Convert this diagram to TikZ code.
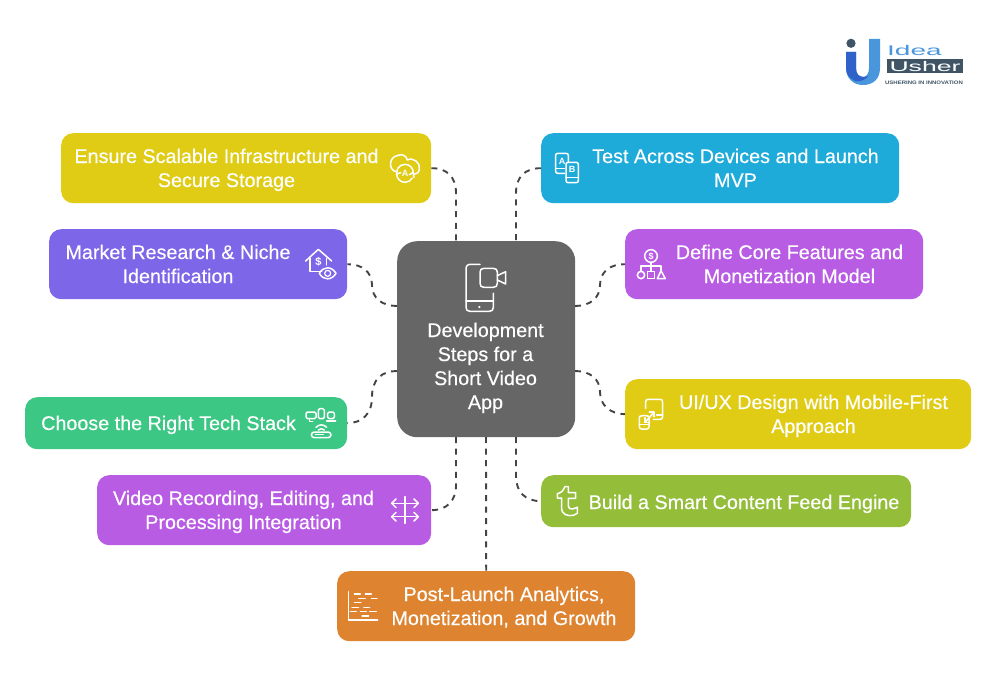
\documentclass[tikz,border=0pt]{standalone}
\usepackage{graphicx}
\usepackage{fontspec}
\setmainfont{Liberation Sans}
\newfontfamily\lblfont[RawFeature={embolden=0.35}]{Liberation Sans}
\definecolor{cyel}{HTML}{E0CC14}
\definecolor{cpur}{HTML}{7D66E8}
\definecolor{cblu}{HTML}{1EABDA}
\definecolor{cvio}{HTML}{B95CE4}
\definecolor{cgrn}{HTML}{3DC784}
\definecolor{clim}{HTML}{94BD3A}
\definecolor{corg}{HTML}{DE8431}
\definecolor{cgry}{HTML}{666666}
\definecolor{cdash}{HTML}{444444}
\definecolor{lgd}{HTML}{3F5566}
\definecolor{lgb}{HTML}{4A96DC}
\definecolor{lgn}{HTML}{2F62C8}
\tikzset{
  box/.style={draw=none,rounded corners=12pt,inner sep=0pt},
  lbl/.style={text=white,align=center,font=\lblfont\fontsize{19.75}{24}\selectfont,inner sep=0pt,yshift=-1pt},
  conn/.style={draw=cdash,line width=1.9pt,dash pattern=on 6pt off 5.6pt},
  ico/.style={draw=white,line width=1.5pt,line join=round,line cap=round},
  zz/.style 2 args={shift={(#1,#2)},x=0.33333pt,y=-0.33333pt},
  ilt/.style={text=white,inner sep=0pt,font=\bfseries\fontsize{9}{9}\selectfont}
}
\newcommand{\mkbox}[6]{\node[box,fill=#6,minimum width=#4pt-#2pt,minimum height=#5pt-#3pt,anchor=north west] (#1) at (#2,#3) {};}
\newcommand{\sq}{\rule[-6pt]{0pt}{24pt}}
\begin{document}
\begin{tikzpicture}[x=1pt,y=-1pt]
\useasboundingbox (0,0) rectangle (996,690);
% boxes
\mkbox{scal}{61}{133}{431}{203}{cyel}
\mkbox{mark}{49}{229}{347}{299}{cpur}
\mkbox{test}{541}{133}{899}{203}{cblu}
\mkbox{defi}{625}{229}{923}{299}{cvio}
\mkbox{tech}{25}{397}{347}{449}{cgrn}
\mkbox{uiux}{625}{379}{971}{449}{cyel}
\mkbox{vide}{97}{475}{431}{545}{cvio}
\mkbox{feed}{541}{475}{911}{527}{clim}
\mkbox{post}{337}{571}{635}{641}{corg}
\node[box,rounded corners=20pt,fill=cgry,minimum width=178pt,minimum height=196pt,anchor=north west] (core) at (397,241) {};
% anchors on the core
\coordinate (ct1) at (456,241);
\coordinate (ct2) at (516,241);
\coordinate (cl1) at (397,306);
\coordinate (cl2) at (397,371);
\coordinate (cr1) at (575,306);
\coordinate (cr2) at (575,371);
\coordinate (cb1) at (456,437);
\coordinate (cb2) at (486,437);
\coordinate (cb3) at (516,437);
% connectors
\draw[conn] (scal.east) .. controls (447,168) and (456,177) .. (456,193) -- (ct1);
\draw[conn] (test.west) .. controls (525,168) and (516,177) .. (516,193) -- (ct2);
\draw[conn] (cl1) .. controls (382,306) and (372,298) .. (372,285) .. controls (372,272) and (362,264) .. (mark.east);
\draw[conn] (cr1) .. controls (590,306) and (600,298) .. (600,285) .. controls (600,272) and (610,264) .. (defi.west);
\draw[conn] (cr2) .. controls (590,371) and (600,379) .. (600,392) .. controls (600,405) and (610,414) .. (uiux.west);
\draw[conn] (cl2) .. controls (382,371) and (372,379) .. (372,397) .. controls (372,414) and (362,423) .. (tech.east);
\draw[conn] (cb1) -- (456,485) .. controls (456,501) and (447,510) .. (vide.east);
\draw[conn] (cb3) -- (516,476) .. controls (516,492) and (525,501) .. (feed.west);
\draw[conn] (cb2) -- (post.north);
% labels
\node[lbl] (tscal) at (226.5,168) {\sq Ensure Scalable Infrastructure and\\\sq Secure Storage};
\node[lbl] (tmark) at (178,264) {\sq Market Research \& Niche\\\sq Identification};
\node[lbl] (ttest) at (735.5,168) {\sq Test Across Devices and Launch\\\sq MVP};
\node[lbl] (tdefi) at (789.5,264) {\sq Define Core Features and\\\sq Monetization Model};
\node[lbl] (ttech) at (168.5,423) {\sq Choose the Right Tech Stack};
\node[lbl] (tuiux) at (813.5,414) {\sq UI/UX Design with Mobile-First\\\sq Approach};
\node[lbl] (tvide) at (243.5,510) {\sq Video Recording, Editing, and\\\sq Processing Integration};
\node[lbl] (tfeed) at (744,502) {\sq Build a Smart Content Feed Engine};
\node[lbl] (tpost) at (504,606) {\sq Post-Launch Analytics,\\\sq Monetization, and Growth};
\node[lbl] (tcore) at (485.5,366) {\sq Development\\\sq Steps for a\\\sq Short Video\\\sq App};
% core icon
\begin{scope}[zz={380}{230}]
\draw[ico] (300,103) -- (272,103) .. controls (262,103) and (258,108) .. (258,118) -- (258,232) .. controls (258,240) and (262,244) .. (270,244) -- (328,244) .. controls (336,244) and (340,240) .. (340,232) -- (340,190);
\draw[ico] (258,213) -- (340,213);
\fill[white] (298,231) circle (3.5);
\draw[ico] (312,115) -- (340,115) .. controls (348,115) and (352,119) .. (352,127) -- (352,160) .. controls (352,168) and (348,172) .. (340,172) -- (312,172) .. controls (304,172) and (300,168) .. (300,160) -- (300,127) .. controls (300,119) and (304,115) .. (312,115) -- cycle;
\draw[ico] (352,137) -- (377,125) -- (377,162) -- (352,150);
\end{scope}
% cloud icon
\begin{scope}[zz={290}{130}]
\draw[ico] (318,125) .. controls (295,120) and (295,80) .. (325,76) .. controls (335,70) and (350,78) .. (352,90) .. controls (370,80) and (392,100) .. (388,115) .. controls (388,128) and (380,132) .. (372,133);
\draw[ico] (320,132) arc (180:30:25);
\draw[ico] (370,128) arc (0:-150:25);
\draw[ico] (322,118) -- (320,132) -- (332,128);
\draw[ico] (372,142) -- (370,128) -- (358,134);
\node[ilt] (ia) at (345,130) {A};
\end{scope}
% house icon
\begin{scope}[zz={290}{130}]
\draw[ico] (47,393) -- (85,358) -- (125,393);
\draw[ico] (60,385) -- (60,424) -- (95,424);
\draw[ico] (110,385) -- (110,405);
\node[ilt,font=\bfseries\fontsize{11}{11}\selectfont] (idollar) at (85,396) {\$};
\draw[ico] (88,430) .. controls (100,408) and (125,408) .. (138,430) .. controls (125,452) and (100,452) .. (88,430) -- cycle;
\draw[ico,line width=1.2pt] (113,430) circle (9);
\end{scope}
% A/B phones
\begin{scope}[zz={510}{130}]
\draw[ico,rounded corners=2pt] (137,70) rectangle (175,130);
\draw[ico] (137,116) -- (165,116);
\node[ilt] (ipa) at (156,93) {A};
\fill[cblu] (165,96) rectangle (207,160);
\draw[ico,rounded corners=2pt] (168,97) rectangle (205,158);
\draw[ico] (168,143) -- (205,143);
\node[ilt] (ipb) at (186,119) {B};
\end{scope}
% hierarchy icon
\begin{scope}[zz={510}{130}]
\draw[ico] (423,378) circle (19);
\node[ilt] (idol) at (423,378) {\$};
\draw[ico] (423,397) -- (423,424);
\draw[ico] (393,424) -- (393,408) -- (453,408) -- (453,420);
\draw[ico] (393,435) circle (11);
\draw[ico] (412,424) rectangle (434,446);
\draw[ico] (453,422) -- (466,446) -- (442,446) -- cycle;
\end{scope}
% devices icon
\begin{scope}[zz={290}{390}]
\draw[ico,rounded corners=1.5pt] (48,66) rectangle (78,86);
\draw[ico] (58,86) -- (58,94) -- (68,94);
\draw[ico,rounded corners=1.5pt] (85,56) rectangle (103,86);
\draw[ico,rounded corners=1.5pt] (113,66) rectangle (133,86);
\draw[ico] (110,93) -- (137,93);
\draw[ico] (78,112) .. controls (88,102) and (100,102) .. (110,112);
\draw[ico] (85,120) .. controls (90,115) and (98,115) .. (103,120);
\draw[ico,rounded corners=3pt] (64,126) rectangle (123,143);
\draw[ico] (76,134) -- (100,134);
\end{scope}
% arrows icon
\begin{scope}[zz={290}{390}]
\draw[ico] (305,340) -- (385,340);
\draw[ico] (305,380) -- (385,380);
\draw[ico] (345,320) -- (345,400);
\draw[ico] (318,327) -- (305,340) -- (318,353);
\draw[ico] (372,327) -- (385,340) -- (372,353);
\draw[ico] (318,367) -- (305,380) -- (318,393);
\draw[ico] (372,367) -- (385,380) -- (372,393);
\end{scope}
% responsive icon
\begin{scope}[zz={510}{380}]
\draw[ico] (407,85) -- (407,66) .. controls (407,60) and (410,58) .. (415,58) -- (450,58) .. controls (455,58) and (458,60) .. (458,66) -- (458,110) .. controls (458,115) and (455,118) .. (450,118) -- (430,118);
\draw[ico] (440,105) -- (458,105);
\draw[ico] (398,107) -- (408,107) .. controls (414,107) and (417,109) .. (417,113) -- (417,140) .. controls (417,145) and (414,147) .. (410,147) -- (395,147) .. controls (391,147) and (388,145) .. (388,140) -- (388,113) .. controls (388,109) and (391,107) .. (398,107);
\draw[ico] (388,134) -- (417,134);
\draw[ico] (405,127) -- (432,97);
\draw[ico] (418,96) -- (432,96) -- (432,110);
\draw[ico] (405,113) -- (405,127) -- (419,127);
\end{scope}
% t icon
\begin{scope}[zz={510}{380}]
\draw[ico] (165,320) -- (175,320) -- (175,338) -- (197,338) -- (197,355) -- (175,355) -- (175,378) .. controls (175,385) and (180,388) .. (188,387) -- (202,382) -- (202,400) .. controls (190,410) and (165,410) .. (157,395) .. controls (155,390) and (155,385) .. (155,378) -- (155,354) -- (142,354) -- (142,341) .. controls (155,338) and (162,330) .. (165,320) -- cycle;
\end{scope}
% chart icon
\begin{scope}[zz={337}{570}]
\draw[ico] (35,65) -- (35,150) -- (122,150);
\foreach \xa/\xb/\yy in {52/70/72,85/103/72,65/85/85,103/120/85,52/72/98,45/65/112,80/98/112,40/58/125,70/88/125,98/118/125,75/95/138}
  \draw[ico,line width=1.3pt] (\xa,\yy) -- (\xb,\yy);
\end{scope}
% logo
\fill[lgb] (869,39) -- (880,39) -- (880,68) .. controls (880,80) and (872,85) .. (863,85) .. controls (853,85) and (846,78) .. (846,68) -- (846,52) -- (856,52) -- (856,68) .. controls (856,74) and (859,77) .. (863,77) .. controls (866,77) and (869,74) .. (869,68) -- cycle;
\fill[lgn] (846,52) -- (856,52) -- (856,68) .. controls (856,74) and (859,77) .. (864,77) .. controls (867,77) and (869,76) .. (870,74) .. controls (866,80) and (861,82) .. (855,81) .. controls (849,78) and (846,74) .. (846,68) -- cycle;
\fill[lgd] (851,43.3) circle (4.6);
\node[text=lgb,inner sep=0pt,font=\fontsize{14}{14}\selectfont,anchor=west] (lgidea) at (887,50) {\scalebox{2}[1]{Idea}};
\node[fill=lgd,minimum width=76pt,minimum height=14pt,inner sep=0pt,anchor=north west] (lgbox) at (887,59) {};
\node[text=white,inner sep=0pt,font=\fontsize{14}{14}\selectfont] (lgusher) at (925,66) {\scalebox{1.9}[1]{Usher}};
\node[text=lgd,inner sep=0pt,font=\bfseries\fontsize{5}{5}\selectfont] (lgtag) at (924,83) {\scalebox{1.2}[1]{USHERING IN INNOVATION}};
\end{tikzpicture}
\end{document}
